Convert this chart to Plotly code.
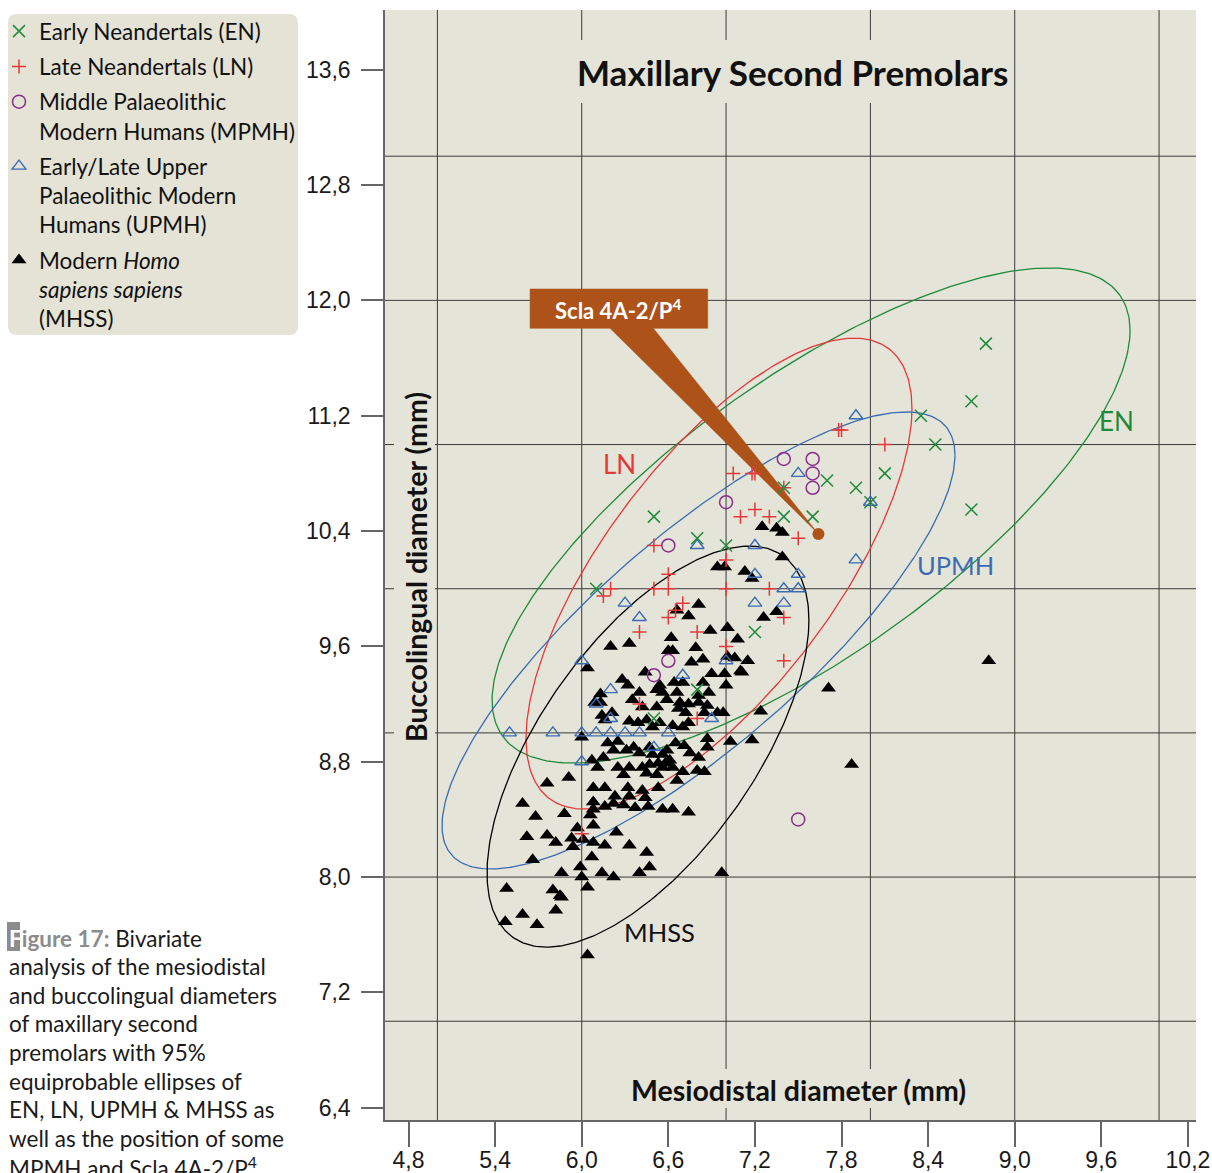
import numpy as np
import plotly.graph_objects as go

# ---------------- data ----------------
EN_X = [8.8, 8.7, 8.35, 8.45, 8.1, 8.7, 7.9, 7.7, 8.0, 7.4, 7.6, 7.4, 6.5, 6.8, 7.0, 6.1, 7.2, 6.8, 6.5]
EN_Y = [11.7, 11.3, 11.2, 11.0, 10.8, 10.55, 10.7, 10.75, 10.6, 10.7, 10.5, 10.5, 10.5, 10.35, 10.3, 10.0, 9.7, 9.3, 9.1]

LN_X = [8.1, 7.8, 7.78, 7.05, 7.2, 7.18, 7.4, 7.1, 7.2, 7.3, 7.5, 6.5, 7.0, 6.6, 6.5, 6.6, 7.0, 7.3, 6.2, 6.15,
        6.7, 6.65, 6.6, 6.4, 6.8, 7.4, 7.4, 7.0, 6.4, 6.8, 6.0]
LN_Y = [11.0, 11.1, 11.1, 10.8, 10.8, 10.8, 10.7, 10.5, 10.55, 10.5, 10.35, 10.3, 10.2, 10.1, 10.0, 10.0, 10.0, 10.0, 10.0, 9.95,
        9.9, 9.85, 9.8, 9.7, 9.7, 9.8, 9.5, 9.6, 9.2, 9.1, 8.3]

MPMH_X = [7.4, 7.6, 7.6, 7.6, 7.0, 6.6, 6.6, 6.5, 7.5]
MPMH_Y = [10.9, 10.9, 10.8, 10.7, 10.6, 10.3, 9.5, 9.4, 8.4]

UPMH_X = [7.9, 8.0, 7.9, 7.5, 6.8, 7.2, 7.2, 7.5, 7.4, 7.5, 7.2, 7.4, 6.3, 6.4, 6.0, 6.2, 6.1, 6.2, 6.7, 7.0,
          6.9, 6.6, 6.5, 6.0, 6.1, 6.2, 6.3, 6.4, 5.5, 5.8, 6.0]
UPMH_Y = [11.2, 10.6, 10.2, 10.8, 10.3, 10.3, 10.1, 10.1, 10.0, 10.0, 9.9, 9.9, 9.9, 9.8, 9.5, 9.3, 9.2, 9.1, 9.4, 9.5,
          9.1, 9.0, 8.9, 9.0, 9.0, 9.0, 9.0, 9.0, 9.0, 9.0, 8.8]

MHSS_X = [7.25, 7.35, 7.39, 7.39, 6.94, 6.99, 7.13, 7.18, 7.26, 7.35, 6.81, 6.66, 6.74, 6.20, 6.33, 6.62, 6.89, 7.01, 7.08, 6.79,
          6.63, 6.76, 6.84, 7.01, 7.06, 7.15, 7.11, 6.44, 6.28, 6.32, 6.54, 6.64, 6.70, 6.90, 6.99, 7.00, 6.13, 6.13, 6.40, 6.35,
          6.52, 6.56, 6.59, 6.42, 6.52, 6.67, 6.72, 6.74, 6.81, 6.87, 6.85, 6.94, 6.98, 7.24, 6.14, 6.21, 6.33, 6.39, 6.45, 6.49,
          6.54, 6.63, 6.70, 6.74, 6.87, 6.87, 7.03, 7.18, 6.65, 6.71, 6.18, 6.25, 6.22, 6.07, 6.15, 6.11, 6.25, 6.33, 6.29, 6.42,
          6.47, 6.53, 6.58, 6.45, 6.52, 6.80, 6.85, 5.91, 6.08, 6.16, 6.23, 6.32, 6.33, 6.42, 6.44, 6.66, 6.53, 6.08, 6.08, 6.16,
          6.29, 6.37, 6.46, 6.56, 6.74, 7.71, 6.81, 6.88, 7.10, 6.04, 6.00, 6.09,
          5.76, 5.59, 5.68, 5.88, 6.06, 5.97, 6.08, 5.62, 5.76, 5.82, 5.93, 5.94, 6.01, 6.08, 6.16, 6.24, 6.33, 6.45, 6.07, 5.66,
          5.86, 5.99, 6.00, 6.14, 6.22, 6.40, 6.47, 5.48, 5.80, 5.85, 5.86, 5.82, 5.47, 5.59, 5.69, 6.04, 6.04, 6.22, 6.63, 6.97,
          7.87, 8.82,
          6.31, 6.36, 6.40, 6.47, 6.49, 6.56, 6.59, 6.61, 6.75, 6.81, 6.56, 6.63, 6.70, 6.66, 6.68, 6.84, 6.60, 6.16]
MHSS_Y = [10.43, 10.42, 10.39, 10.22, 10.15, 10.15, 10.12, 10.07, 9.80, 9.84, 9.89, 9.85, 9.81, 9.60, 9.62, 9.66, 9.71, 9.73, 9.65, 9.59,
          9.57, 9.49, 9.51, 9.53, 9.52, 9.50, 9.42, 9.42, 9.37, 9.33, 9.33, 9.35, 9.35, 9.41, 9.41, 9.33, 9.27, 9.21, 9.28, 9.23,
          9.30, 9.28, 9.23, 9.18, 9.18, 9.17, 9.14, 9.20, 9.21, 9.19, 9.14, 9.14, 9.14, 9.15, 9.12, 9.14, 9.08, 9.07, 9.09, 9.04,
          9.07, 9.05, 9.04, 9.07, 8.96, 8.90, 8.94, 8.95, 8.93, 8.91, 8.93, 8.94, 8.88, 8.81, 8.83, 8.76, 8.76, 8.76, 8.71, 8.76,
          8.78, 8.79, 8.79, 8.72, 8.71, 8.74, 8.73, 8.69, 8.62, 8.62, 8.56, 8.62, 8.56, 8.60, 8.55, 8.67, 8.62, 8.52, 8.47, 8.49,
          8.50, 8.48, 8.49, 8.47, 8.45, 9.31, 9.26, 9.28, 9.43, 9.45, 8.97, 9.21,
          8.65, 8.51, 8.42, 8.44, 8.43, 8.34, 8.36, 8.28, 8.29, 8.24, 8.27, 8.21, 8.26, 8.24, 8.22, 8.31, 8.22, 8.17, 8.14, 8.12,
          8.03, 8.07, 8.00, 8.03, 8.00, 8.03, 8.07, 7.92, 7.91, 7.87, 7.86, 7.77, 7.69, 7.74, 7.67, 7.93, 7.46, 8.51, 8.47, 8.03,
          8.78, 9.50,
          8.88, 8.90, 8.86, 8.90, 8.85, 8.85, 8.88, 8.81, 8.86, 8.83, 8.76, 8.76, 8.73, 9.28, 9.21, 9.35, 9.57, 9.09]

SCLA_X = [7.64]
SCLA_Y = [10.38]

# 95% ellipses: centre, spread along x, spread along y, correlation
ELL_NAMES = ["EN", "LN", "UPMH", "MHSS"]
ELL_CX = [7.589, 6.951, 6.809, 6.459]
ELL_CY = [10.508, 10.105, 9.641, 8.905]
ELL_SX = [2.210, 1.337, 1.777, 1.115]
ELL_SY = [1.717, 1.633, 1.585, 1.391]
ELL_R = [0.747, 0.700, 0.810, 0.630]

X_TICKS = [4.8, 5.4, 6.0, 6.6, 7.2, 7.8, 8.4, 9.0, 9.6, 10.2]
X_TICK_TEXT = ["4,8", "5,4", "6,0", "6,6", "7,2", "7,8", "8,4", "9,0", "9,6", "10,2"]
Y_TICKS = [6.4, 7.2, 8.0, 8.8, 9.6, 10.4, 11.2, 12.0, 12.8, 13.6]
Y_TICK_TEXT = ["6,4", "7,2", "8,0", "8,8", "9,6", "10,4", "11,2", "12,0", "12,8", "13,6"]
GRID_X = [5, 6, 7, 8, 9, 10]
GRID_Y = [7, 8, 9, 10, 11, 12, 13]

# ---------------- style ----------------
BG = "#e5e4d8"
GREEN = "#1f8a3c"
RED = "#e5383b"
PURPLE = "#8a2d8c"
BLUE = "#3b6cb3"
BROWN = "#ad5219"
GRID = "#3a3a3a"
AXIS = "#666666"
SANS = "Lato, 'Open Sans', sans-serif"
TICKF = "'Liberation Sans', Arial, sans-serif"

W, H = 1212, 1173
PL, PR, PT, PB = 385, 1196, 10, 1120
X_RANGE = [4.637, 10.256]
Y_RANGE = [6.315, 14.014]


def pxx(p):
    return (p - PL) / (PR - PL)


def pxy(p):
    return (PB - p) / (PB - PT)


fig = go.Figure()

# ellipses
ell_colors = {"EN": GREEN, "LN": RED, "UPMH": BLUE, "MHSS": "#000000"}
t = np.linspace(0, 2 * np.pi, 361)
for name, cx, cy, sx, sy, r in zip(ELL_NAMES, ELL_CX, ELL_CY, ELL_SX, ELL_SY, ELL_R):
    ex = cx + sx * np.cos(t)
    ey = cy + sy * (r * np.cos(t) + np.sqrt(1 - r * r) * np.sin(t))
    fig.add_trace(go.Scatter(x=ex, y=ey, mode="lines", line=dict(color=ell_colors[name], width=1.3),
                             showlegend=False, hoverinfo="skip"))

# callout box + wedge pointing to Scla 4A-2/P4
bx0, bx1, by0, by1 = 5.642, 6.873, 11.806, 12.079
wl, wr = 6.196, 6.496
fig.add_trace(go.Scatter(
    x=[bx0, bx1, bx1, wr, SCLA_X[0], wl, bx0, bx0],
    y=[by1, by1, by0, by0, SCLA_Y[0], by0, by0, by1],
    mode="lines", fill="toself", fillcolor=BROWN, line=dict(color=BROWN, width=0.5),
    showlegend=False, hoverinfo="skip"))

# point clouds
fig.add_trace(go.Scatter(x=MHSS_X, y=MHSS_Y, mode="markers", name="Modern <i>Homo</i><br><i>sapiens sapiens</i><br>(MHSS)",
                         marker=dict(symbol="triangle-up", size=13, color="#000000", line=dict(width=0)),
                         legendrank=5, legendgroup="MHSS"))
fig.add_trace(go.Scatter(x=UPMH_X, y=UPMH_Y, mode="markers", name="Early/Late Upper<br>Palaeolithic Modern<br>Humans (UPMH)",
                         marker=dict(symbol="triangle-up-open", size=12, color=BLUE, line=dict(width=1.4, color=BLUE)),
                         legendrank=4, legendgroup="UPMH"))
fig.add_trace(go.Scatter(x=MPMH_X, y=MPMH_Y, mode="markers", name="Middle Palaeolithic<br>Modern Humans (MPMH)",
                         marker=dict(symbol="circle-open", size=13, color=PURPLE, line=dict(width=1.5, color=PURPLE)),
                         legendrank=3, legendgroup="MPMH"))
fig.add_trace(go.Scatter(x=LN_X, y=LN_Y, mode="markers", name="Late Neandertals (LN)",
                         marker=dict(symbol="cross-thin", size=10, color=RED, line=dict(width=1.5, color=RED)),
                         legendrank=2, legendgroup="LN"))
fig.add_trace(go.Scatter(x=EN_X, y=EN_Y, mode="markers", name="Early Neandertals (EN)",
                         marker=dict(symbol="x-thin", size=12, color=GREEN, line=dict(width=1.5, color=GREEN)),
                         legendrank=1, legendgroup="EN"))
fig.add_trace(go.Scatter(x=SCLA_X, y=SCLA_Y, mode="markers", showlegend=False,
                         marker=dict(symbol="circle", size=12, color=BROWN)))

shapes = []
# grid lines at integer millimetres
for v in GRID_X:
    shapes.append(dict(type="line", xref="x", yref="paper", x0=v, x1=v, y0=0, y1=1,
                       line=dict(color=GRID, width=1), layer="below"))
for v in GRID_Y:
    shapes.append(dict(type="line", xref="paper", yref="y", x0=0, x1=1, y0=v, y1=v,
                       line=dict(color=GRID, width=1), layer="below"))
# background masks behind the in-plot titles
for (a, b, c, d) in [(572, 1010, 40, 103), (628, 968, 1069, 1108), (394, 435, 385, 750)]:
    shapes.append(dict(type="rect", xref="paper", yref="paper", x0=pxx(a), x1=pxx(b), y0=pxy(d), y1=pxy(c),
                       fillcolor=BG, line=dict(width=0), layer="below"))

# rounded legend panel
lx0, lx1, ly0, ly1, rad = pxx(8), pxx(298), pxy(335), pxy(14), 9
rx, ry = rad / (PR - PL), rad / (PB - PT)
path = (f"M {lx0+rx},{ly1} L {lx1-rx},{ly1} Q {lx1},{ly1} {lx1},{ly1-ry} L {lx1},{ly0+ry} "
        f"Q {lx1},{ly0} {lx1-rx},{ly0} L {lx0+rx},{ly0} Q {lx0},{ly0} {lx0},{ly0+ry} "
        f"L {lx0},{ly1-ry} Q {lx0},{ly1} {lx0+rx},{ly1} Z")
shapes.append(dict(type="path", xref="paper", yref="paper", path=path, fillcolor="#e4e3d6",
                   line=dict(width=0), layer="below"))
# grey drop-cap box of the caption
shapes.append(dict(type="rect", xref="paper", yref="paper", x0=pxx(7), x1=pxx(20), y0=pxy(951), y1=pxy(922),
                   fillcolor="#8c8c8c", line=dict(width=0), layer="below"))

annotations = [
    dict(text="<b>Maxillary Second Premolars</b>", xref="paper", yref="paper", x=pxx(792), y=pxy(72),
         xanchor="center", yanchor="middle",
         showarrow=False, font=dict(family=SANS, size=35, color="#111111")),
    dict(text="<b>Mesiodistal diameter (mm)</b>", xref="paper", yref="paper", x=pxx(798), y=pxy(1090),
         xanchor="center", yanchor="middle",
         showarrow=False, font=dict(family=SANS, size=28.5, color="#111111")),
    dict(text="<b>Buccolingual diameter (mm)</b>", xref="paper", yref="paper", x=pxx(416), y=pxy(567),
         xanchor="center", yanchor="middle",
         showarrow=False, textangle=-90, font=dict(family=SANS, size=28.5, color="#111111")),
    dict(text="<b>Scla 4A-2/P<sup>4</sup></b>", xref="x", yref="y", x=6.252, y=11.94,
         showarrow=False, font=dict(family=SANS, size=22, color="#ffffff")),
    dict(text="EN", xref="x", yref="y", x=9.708, y=11.163, showarrow=False,
         font=dict(family=SANS, size=26, color=GREEN)),
    dict(text="LN", xref="x", yref="y", x=6.265, y=10.865, showarrow=False,
         font=dict(family=SANS, size=26, color=RED)),
    dict(text="UPMH", xref="x", yref="y", x=8.593, y=10.164, showarrow=False,
         font=dict(family=SANS, size=25.5, color=BLUE)),
    dict(text="MHSS", xref="x", yref="y", x=6.542, y=7.619, showarrow=False,
         font=dict(family=SANS, size=25.5, color="#111111")),
]

CAPTION = [
    "<span style='color:#ffffff'><b>F</b></span><span style='color:#8c8c8c'><b>igure 17:</b></span> Bivariate",
    "analysis of the mesiodistal",
    "and buccolingual diameters",
    "of maxillary second",
    "premolars with 95%",
    "equiprobable ellipses of",
    "EN, LN, UPMH &amp; MHSS as",
    "well as the position of some",
    "MPMH and Scla 4A-2/P<sup>4</sup>.",
]
for i, line in enumerate(CAPTION):
    annotations.append(dict(text=line, xref="paper", yref="paper", x=pxx(7), y=pxy(938 + 28.6 * i),
                            xanchor="left", yanchor="middle", showarrow=False,
                            font=dict(family=SANS, size=22.5, color="#1a1a1a")))

fig.update_layout(
    width=W, height=H,
    margin=dict(l=PL, r=W - PR, t=PT, b=H - PB, pad=0, autoexpand=False),
    paper_bgcolor="#ffffff", plot_bgcolor=BG,
    shapes=shapes, annotations=annotations,
    legend=dict(x=pxx(-1), y=pxy(10), xanchor="left", yanchor="top", bgcolor="rgba(0,0,0,0)",
                font=dict(family=SANS, size=22.5, color="#111111"), valign="top", traceorder="grouped",
                tracegroupgap=3),
    xaxis=dict(range=X_RANGE, tickvals=X_TICKS, ticktext=X_TICK_TEXT, ticks="outside", ticklen=25,
               tickwidth=1.5, tickcolor=AXIS, showgrid=False, zeroline=False, showline=True,
               linecolor=AXIS, linewidth=1.5, tickfont=dict(family=TICKF, size=23, color="#1a1a1a"),
               ticklabelstandoff=-6),
    yaxis=dict(range=Y_RANGE, tickvals=Y_TICKS, ticktext=Y_TICK_TEXT, ticks="outside", ticklen=22,
               tickwidth=1.5, tickcolor=AXIS, showgrid=False, zeroline=False, showline=True,
               linecolor=AXIS, linewidth=1.5, tickfont=dict(family=TICKF, size=23, color="#1a1a1a"),
               ticklabelstandoff=6),
)

fig.write_html("out.html", config={"displayModeBar": False},
               post_script="document.body.style.margin='0';document.body.style.overflow='hidden';")
